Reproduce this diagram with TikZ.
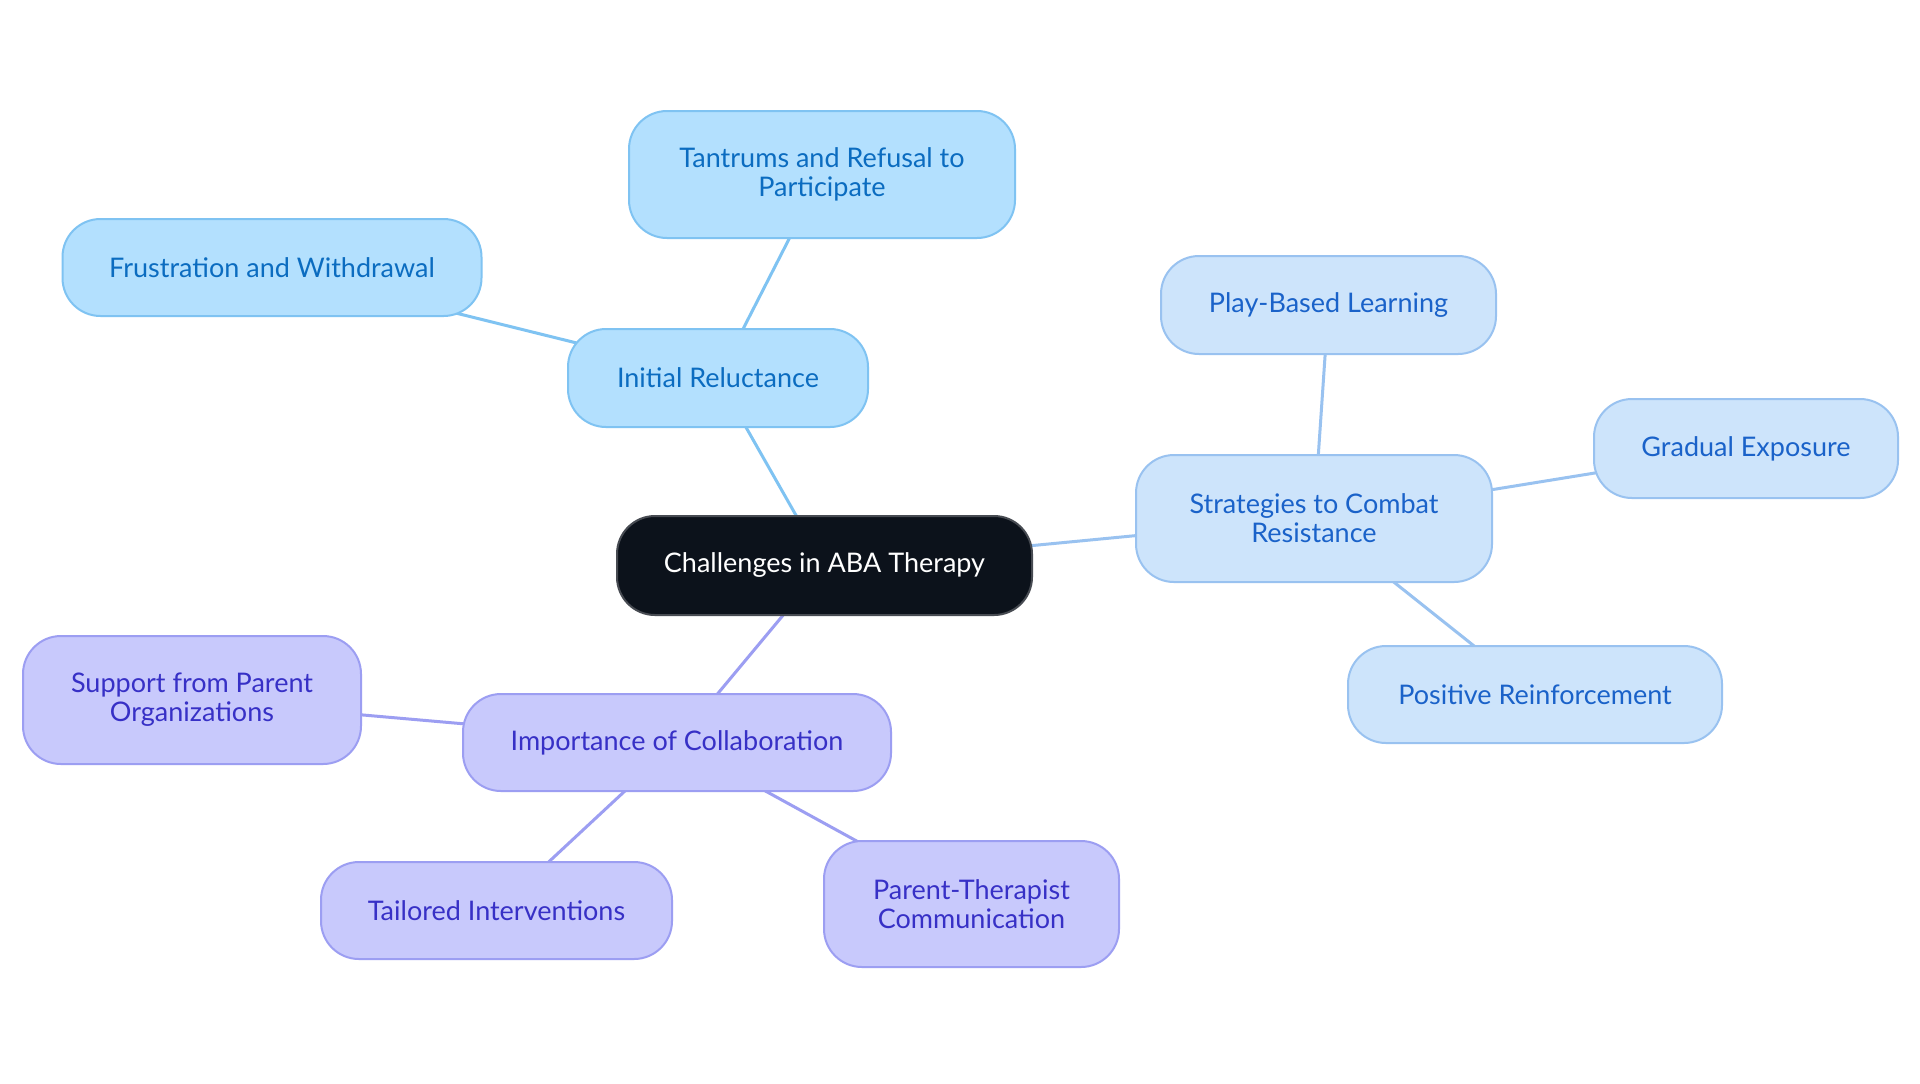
\documentclass[tikz,border=0pt]{standalone}
\usepackage{fontspec}
\setmainfont{Lato}
\usetikzlibrary{backgrounds}
\definecolor{bfill}{HTML}{B3E0FE}
\definecolor{bline}{HTML}{7FC3F2}
\definecolor{btext}{HTML}{0B6CC0}
\definecolor{sfill}{HTML}{CDE4FB}
\definecolor{sline}{HTML}{99C2F0}
\definecolor{stext}{HTML}{1A62C9}
\definecolor{pfill}{HTML}{C8C9FC}
\definecolor{pline}{HTML}{9C9EF2}
\definecolor{ptext}{HTML}{3730C6}
\definecolor{cfill}{HTML}{0C121B}
\definecolor{cline}{HTML}{474B52}
\tikzset{
  box/.style={rounded corners=19pt, line width=1pt, inner sep=0pt, align=center,
    font=\fontsize{13.5}{14.5}\selectfont},
  rootbox/.style={box, fill=cfill, draw=cline, text=white},
  bbox/.style={box, fill=bfill, draw=bline, text=btext},
  sbox/.style={box, fill=sfill, draw=sline, text=stext},
  pbox/.style={box, fill=pfill, draw=pline, text=ptext},
  bedge/.style={draw=bline, line width=1.5pt},
  sedge/.style={draw=sline, line width=1.5pt},
  pedge/.style={draw=pline, line width=1.5pt},
}
\begin{document}
\begin{tikzpicture}[x=1pt,y=1pt]
\useasboundingbox (0,0) rectangle (960,-541.5);
\node[rootbox, minimum width=207.5pt, minimum height=49.5pt] (root) at (412.25,-282.75) {Challenges in ABA Therapy};
\node[bbox, minimum width=150pt, minimum height=49pt] (init) at (359,-189) {Initial Reluctance};
\node[bbox, minimum width=193pt, minimum height=63.5pt] (tant) at (411,-87.25) {Tantrums and Refusal to\\Participate};
\node[bbox, minimum width=209.5pt, minimum height=48.5pt] (frus) at (136,-133.75) {Frustration and Withdrawal};
\node[sbox, minimum width=178pt, minimum height=63.5pt] (strat) at (657,-259.25) {Strategies to Combat\\Resistance};
\node[sbox, minimum width=167.5pt, minimum height=49pt] (play) at (664.25,-152.5) {Play-Based Learning};
\node[sbox, minimum width=152pt, minimum height=49.5pt] (grad) at (873,-224.25) {Gradual Exposure};
\node[sbox, minimum width=187pt, minimum height=48.5pt] (posi) at (767.5,-347.25) {Positive Reinforcement};
\node[pbox, minimum width=214pt, minimum height=48.5pt] (impo) at (338.5,-371.25) {Importance of Collaboration};
\node[pbox, minimum width=169pt, minimum height=64pt] (supp) at (96,-350) {Support from Parent\\Organizations};
\node[pbox, minimum width=175.5pt, minimum height=48.5pt] (tail) at (248.25,-455.25) {Tailored Interventions};
\node[pbox, minimum width=147.5pt, minimum height=63pt] (pare) at (485.75,-452) {Parent-Therapist\\Communication};
\begin{scope}[on background layer]
\fill[white] (0,0) rectangle (960,-541.5);
\draw[bedge] (root.center) -- (init.center);
\draw[bedge] (init.center) -- (tant.center);
\draw[bedge] (init.center) -- (frus.center);
\draw[sedge] (root.center) -- (strat.center);
\draw[sedge] (strat.center) -- (play.center);
\draw[sedge] (strat.center) -- (grad.center);
\draw[sedge] (strat.center) -- (posi.center);
\draw[pedge] (root.center) -- (impo.center);
\draw[pedge] (impo.center) -- (supp.center);
\draw[pedge] (impo.center) -- (tail.center);
\draw[pedge] (impo.center) -- (pare.center);
\end{scope}
\end{tikzpicture}
\end{document}
